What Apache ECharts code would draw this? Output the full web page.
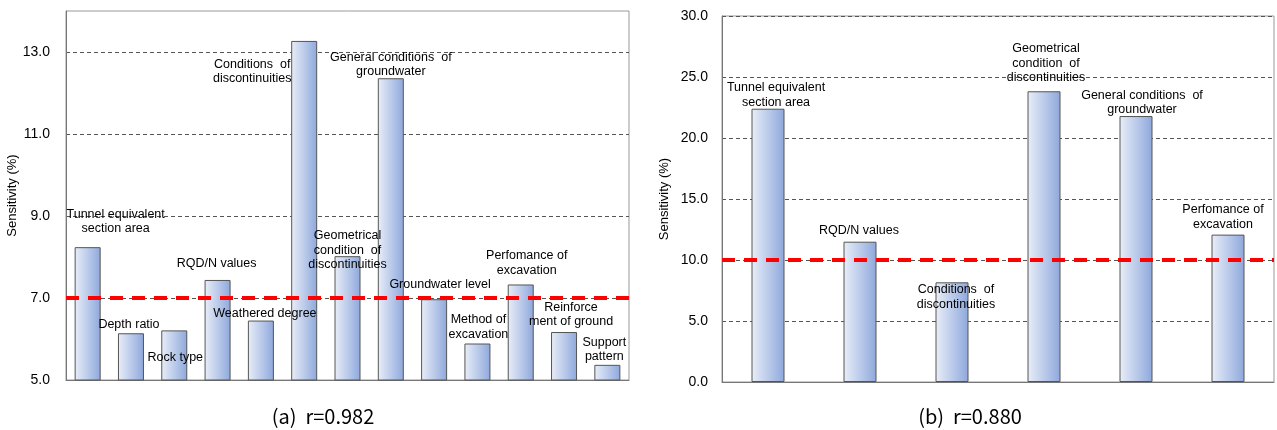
<!DOCTYPE html>
<html><head><meta charset="utf-8">
<script src="https://cdn.jsdelivr.net/npm/echarts@6/dist/echarts.min.js"></script>
<style>html,body{margin:0;padding:0;background:#fff}#c{width:1277px;height:430px}</style>
</head><body><div id="c"></div>
<script>
// ---- data ----
var catsA = ['Tunnel equivalent\nsection area','Depth ratio','Rock type','RQD/N values','Weathered degree','Conditions  of\ndiscontinuities','Geometrical\ncondition  of\ndiscontinuities','General conditions  of\ngroundwater','Groundwater level','Method of\nexcavation','Perfomance of\nexcavation','Reinforce\nment of ground','Support\npattern'];
var valsA = [8.24, 6.14, 6.21, 7.44, 6.45, 13.27, 8.02, 12.36, 6.97, 5.89, 7.33, 6.17, 5.37];
var catsB = ['Tunnel equivalent\nsection area','RQD/N values','Conditions  of\ndiscontinuities','Geometrical\ncondition  of\ndiscontinuities','General conditions  of\ngroundwater','Perfomance of\nexcavation'];
var valsB = [22.4, 11.5, 8.17, 23.83, 21.8, 12.08];
var thresholdA = 7.0;
var thresholdB = 10.0;
var titleA = '(a)  r=0.982';
var titleB = '(b)  r=0.880';
var yNameA = 'Sensitivity (%)';
var yNameB = 'Sensitivity (%)';

// ---- label layout (offsets relative to bar top) ----
var offA = [[28,-11],[-2,-1],[1,34],[-1,-9],[4,0],[-52,45],[0,16],[0,1],[6,-7],[1,-2],[6,-7],[7,-3],[-3,-1]];
var offB = [[8,1],[-1,-4],[4,29],[2,-6],[6,1],[-5,-3]];

var barColor = {type:'linear',x:0,y:0,x2:1,y2:0,colorStops:[{offset:0,color:'#e9eef8'},{offset:1,color:'#8ea8dc'}]};
var font = 'Liberation Sans, Arial, sans-serif';

function mkData(vals, offs){
  return vals.map(function(v,i){return {value:v,label:{offset:offs[i]}};});
}
function mkSeries(idx, cats, vals, offs, thr, bw){
  return {
    type:'bar', xAxisIndex:idx, yAxisIndex:idx, barWidth:bw,
    data: mkData(vals, offs),
    itemStyle:{color:barColor, borderColor:'#555', borderWidth:1},
    label:{show:true, position:'top', distance:0, color:'#000', fontSize:12.5, lineHeight:14.5, fontFamily:font,
      formatter:function(p){return cats[p.dataIndex];}},
    markLine:{silent:true, symbol:'none', label:{show:false},
      lineStyle:{color:'#ff0000', width:4, type:[13,9]},
      data:[{yAxis:thr}]},
    z:2
  };
}

var chart = echarts.init(document.getElementById('c'), null, {renderer:'canvas'});
chart.setOption({
  animation:false,
  title:[
    {text:titleA, left:318, top:401, textAlign:'center', textStyle:{fontSize:20, fontWeight:'normal', color:'#000', fontFamily:'Noto Sans CJK KR, sans-serif'}},
    {text:titleB, left:965, top:401, textAlign:'center', textStyle:{fontSize:20, fontWeight:'normal', color:'#000', fontFamily:'Noto Sans CJK KR, sans-serif'}}
  ],
  grid:[
    {left:66, top:11, right:648, bottom:50, show:true, borderColor:'#999', borderWidth:1},
    {left:722, top:16, right:3, bottom:48, show:true, borderColor:'#999', borderWidth:1}
  ],
  xAxis:[
    {type:'category', gridIndex:0, data:catsA, axisLabel:{show:false}, axisTick:{show:false}, axisLine:{lineStyle:{color:'#777'}}},
    {type:'category', gridIndex:1, data:catsB, axisLabel:{show:false}, axisTick:{show:false}, axisLine:{lineStyle:{color:'#777'}}}
  ],
  yAxis:[
    {type:'value', gridIndex:0, min:5, max:14, interval:1,
     name:yNameA, nameLocation:'middle', nameGap:45, nameTextStyle:{fontSize:13, color:'#000', fontFamily:font},
     axisLine:{show:true, lineStyle:{color:'#777'}}, axisTick:{show:false},
     axisLabel:{margin:16, fontSize:14, color:'#000', fontFamily:font, formatter:function(v){return (Math.round(v)%2===1 && v<14)? v.toFixed(1):'';}},
     splitLine:{show:true, lineStyle:{color:['#555','rgba(0,0,0,0)'], type:[4,3], width:1}}},
    {type:'value', gridIndex:1, min:0, max:30, interval:5,
     name:yNameB, nameLocation:'middle', nameGap:51, nameTextStyle:{fontSize:13, color:'#000', fontFamily:font},
     axisLine:{show:true, lineStyle:{color:'#777'}}, axisTick:{show:false},
     axisLabel:{margin:14, fontSize:14, color:'#000', fontFamily:font, formatter:function(v){return v.toFixed(1);}},
     splitLine:{show:true, lineStyle:{color:'#555', type:[4,3], width:1}}}
  ],
  series:[
    mkSeries(0, catsA, valsA, offA, thresholdA, 26),
    mkSeries(1, catsB, valsB, offB, thresholdB, 33)
  ]
});
</script></body></html>
